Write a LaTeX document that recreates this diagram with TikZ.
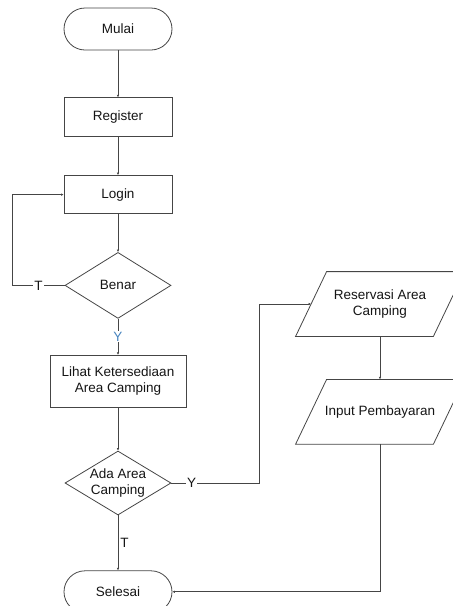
\documentclass[tikz,border=0pt]{standalone}
\usepackage{fontspec}
\setmainfont{Liberation Sans}
\usepackage{xcolor}
\usetikzlibrary{shapes.geometric, arrows.meta, positioning}
\definecolor{linegray}{HTML}{454545}
\definecolor{textgray}{HTML}{151515}
\definecolor{yblue}{HTML}{4A86C0}

\begin{document}
\begin{tikzpicture}[x=1pt, y=1pt, line width=0.8pt, font=\fontsize{13.5}{16.5}\selectfont, text=textgray]
\tikzstyle{term} = [rectangle, rounded corners=21pt, draw=linegray, minimum width=108pt, minimum height=42pt]
\tikzstyle{box} = [rectangle, draw=linegray, minimum width=108pt, text centered]
\tikzstyle{decision} = [diamond, draw=linegray, minimum width=106pt, minimum height=66pt, inner sep=0pt]
\tikzstyle{io} = [rectangle, minimum width=137pt, minimum height=64pt, align=center]
\tikzstyle{arrow} = [draw=linegray, -{Latex[length=2.5pt,width=2.5pt]}]
\tikzstyle{lbl} = [fill=white, inner sep=1pt]

\useasboundingbox (0,0) rectangle (453,-606);

\node (mulai) [term] at (118,-29) {Mulai};
\node (register) [box, minimum height=39pt, below=47pt of mulai] {Register};
\node (login) [box, minimum height=38pt, below=38pt of register] {Login};
\node (benar) [decision, below=38pt of login] {Benar};
\node (lihat) [box, minimum width=136pt, minimum height=52pt, align=center, below=36pt of benar] {Lihat Ketersediaan\\Area Camping};
\node (ada) [decision, minimum height=64pt, below=43pt of lihat, label={[align=center]center:Ada Area\\Camping}] {};
\node (selesai) [term, below=55pt of ada] {Selesai};
\node (reservasi) [io] at (380,-304) {Reservasi Area\\Camping};
\node (input) [io, below=43pt of reservasi] {Input Pembayaran};

% parallelogram outlines for the input/output nodes
\foreach \n in {reservasi, input}
  \draw [linegray] ([xshift=-15.5pt]\n.south west) -- ([xshift=-15.5pt]\n.south east)
    -- ([xshift=15.5pt]\n.north east) -- ([xshift=15.5pt]\n.north west) -- cycle;

\draw [arrow] (mulai) -- (register);
\draw [arrow] (register) -- (login);
\draw [arrow] (login) -- (benar);
\draw [arrow] (benar) -- node[lbl, text=yblue] {Y} (lihat);
\draw [arrow] (benar.west) -- node[lbl] {T} ++(-52,0) |- (login.west);
\draw [arrow] (lihat) -- (ada);
\draw [arrow] (ada) -- node[right, inner sep=2pt] {T} (selesai);
\draw [arrow] (ada.east) -- node[lbl, pos=0.23] {Y} ++(88,0) |- (reservasi);
\draw [arrow] (reservasi) -- (input);
\draw [arrow] (input) |- (selesai);
\end{tikzpicture}
\end{document}
